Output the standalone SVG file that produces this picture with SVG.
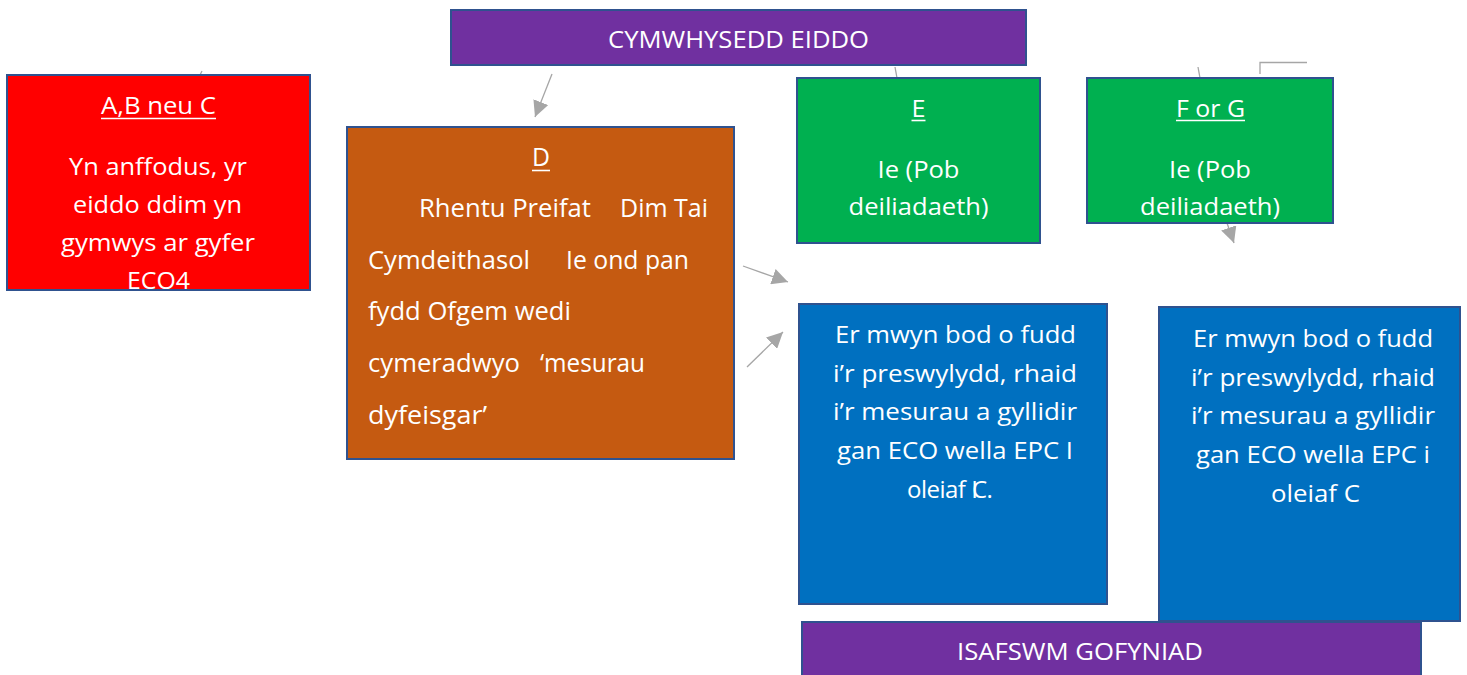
<svg xmlns="http://www.w3.org/2000/svg" width="1467" height="675" viewBox="0 0 1467 675">
<style>
.box{stroke:#2F528F;stroke-width:2}
.t{font-family:"Open Sans","Noto Sans",sans-serif;fill:#FFFFFF;font-size:24px}
.c{text-anchor:middle}
.d{font-size:25px}
.ul{stroke:#FFFFFF;stroke-width:1.6}
.con{stroke:#A6A6A6;stroke-width:1.3;fill:none}
</style>
<defs>
<marker id="ah" markerUnits="userSpaceOnUse" markerWidth="17" markerHeight="16" refX="16" refY="8" orient="auto">
<path d="M0,0 L16,8 L0,16 z" fill="#A6A6A6"/>
</marker>
</defs>
<rect width="1467" height="675" fill="#FFFFFF"/>

<g id="connectors">
<line class="con" x1="200" y1="75" x2="202" y2="71"/>
<line class="con" x1="552" y1="74" x2="535" y2="117" marker-end="url(#ah)"/>
<line class="con" x1="895" y1="67" x2="897" y2="78"/>
<line class="con" x1="1198" y1="67" x2="1200" y2="78"/>
<path class="con" d="M1260,74 V62.5 H1307"/>
<line class="con" x1="1227" y1="223" x2="1234" y2="243" marker-end="url(#ah)"/>
<line class="con" x1="743" y1="266" x2="788" y2="282" marker-end="url(#ah)"/>
<line class="con" x1="747" y1="367" x2="783" y2="332" marker-end="url(#ah)"/>
</g>

<g id="node-cymwysedd">
<rect class="box" x="451" y="10" width="575" height="55" fill="#7030A0"/>
<text class="t c" x="738.5" y="48" textLength="261" lengthAdjust="spacingAndGlyphs">CYMWHYSEDD EIDDO</text>
</g>

<g id="node-abc">
<rect class="box" x="7" y="75" width="303" height="215" fill="#FF0000"/>
<text class="t c" x="158.5" y="114" textLength="115" lengthAdjust="spacingAndGlyphs">A,B neu C</text>
<line class="ul" x1="101" y1="118.5" x2="216" y2="118.5"/>
<text class="t c" x="158" y="175" textLength="178" lengthAdjust="spacingAndGlyphs">Yn anffodus, yr</text>
<text class="t c" x="157.5" y="213" textLength="169" lengthAdjust="spacingAndGlyphs">eiddo ddim yn</text>
<text class="t c" x="158" y="251" textLength="194" lengthAdjust="spacingAndGlyphs">gymwys ar gyfer</text>
<text class="t c" x="158.5" y="289" textLength="63" lengthAdjust="spacingAndGlyphs">ECO4</text>
</g>

<g id="node-d">
<rect class="box" x="347" y="127" width="387" height="332" fill="#C55A11"/>
<text class="t c d" x="541" y="166" textLength="18" lengthAdjust="spacingAndGlyphs">D</text>
<line class="ul" x1="532" y1="170.5" x2="550" y2="170.5"/>
<text class="t d" x="419" y="217" textLength="172" lengthAdjust="spacingAndGlyphs">Rhentu Preifat</text>
<text class="t d" x="620" y="217" textLength="88" lengthAdjust="spacingAndGlyphs">Dim Tai</text>
<text class="t d" x="368" y="269" textLength="162" lengthAdjust="spacingAndGlyphs">Cymdeithasol</text>
<text class="t d" x="566" y="269" textLength="123" lengthAdjust="spacingAndGlyphs">Ie ond pan</text>
<text class="t d" x="368" y="320" textLength="203" lengthAdjust="spacingAndGlyphs">fydd Ofgem wedi</text>
<text class="t d" x="368" y="372" textLength="152" lengthAdjust="spacingAndGlyphs">cymeradwyo</text>
<text class="t d" x="540" y="372" textLength="105" lengthAdjust="spacingAndGlyphs">‘mesurau</text>
<text class="t d" x="368" y="424" textLength="119" lengthAdjust="spacingAndGlyphs">dyfeisgar’</text>
</g>

<g id="node-e">
<rect class="box" x="797" y="78" width="243" height="165" fill="#00B050"/>
<text class="t c" x="918.5" y="117" textLength="14" lengthAdjust="spacingAndGlyphs">E</text>
<line class="ul" x1="911.5" y1="120.5" x2="925.5" y2="120.5"/>
<text class="t c" x="918.5" y="178" textLength="82" lengthAdjust="spacingAndGlyphs">Ie (Pob</text>
<text class="t c" x="918.5" y="215" textLength="140" lengthAdjust="spacingAndGlyphs">deiliadaeth)</text>
</g>

<g id="node-fg">
<rect class="box" x="1087" y="78" width="246" height="145" fill="#00B050"/>
<text class="t c" x="1210.5" y="117" textLength="69" lengthAdjust="spacingAndGlyphs">F or G</text>
<line class="ul" x1="1176" y1="120.5" x2="1245" y2="120.5"/>
<text class="t c" x="1210" y="178" textLength="82" lengthAdjust="spacingAndGlyphs">Ie (Pob</text>
<text class="t c" x="1210" y="215" textLength="140" lengthAdjust="spacingAndGlyphs">deiliadaeth)</text>
</g>

<g id="node-blue1">
<rect class="box" x="799" y="304" width="308" height="300" fill="#0070C0"/>
<text class="t c" x="955.5" y="343" textLength="241" lengthAdjust="spacingAndGlyphs">Er mwyn bod o fudd</text>
<text class="t c" x="955" y="382" textLength="244" lengthAdjust="spacingAndGlyphs">i’r preswylydd, rhaid</text>
<text class="t c" x="955" y="420" textLength="244" lengthAdjust="spacingAndGlyphs">i’r mesurau a gyllidir</text>
<text class="t c" x="955" y="459" textLength="236" lengthAdjust="spacingAndGlyphs">gan ECO wella EPC I</text>
<text class="t" x="907" y="498" letter-spacing="-0.5">oleiaf <tspan letter-spacing="-6">I</tspan>C.</text>
</g>

<g id="node-blue2">
<rect class="box" x="1159" y="307" width="301" height="314" fill="#0070C0"/>
<text class="t c" x="1313" y="347" textLength="240" lengthAdjust="spacingAndGlyphs">Er mwyn bod o fudd</text>
<text class="t c" x="1313" y="386" textLength="244" lengthAdjust="spacingAndGlyphs">i’r preswylydd, rhaid</text>
<text class="t c" x="1313" y="424" textLength="244" lengthAdjust="spacingAndGlyphs">i’r mesurau a gyllidir</text>
<text class="t c" x="1313" y="463" textLength="234" lengthAdjust="spacingAndGlyphs">gan ECO wella EPC i</text>
<text class="t c" x="1315.5" y="502" textLength="89" lengthAdjust="spacingAndGlyphs">oleiaf C</text>
</g>

<g id="node-isafswm">
<rect class="box" x="802" y="622" width="619" height="60" fill="#7030A0"/>
<text class="t c" x="1080" y="660" textLength="246" lengthAdjust="spacingAndGlyphs">ISAFSWM GOFYNIAD</text>
</g>
</svg>
